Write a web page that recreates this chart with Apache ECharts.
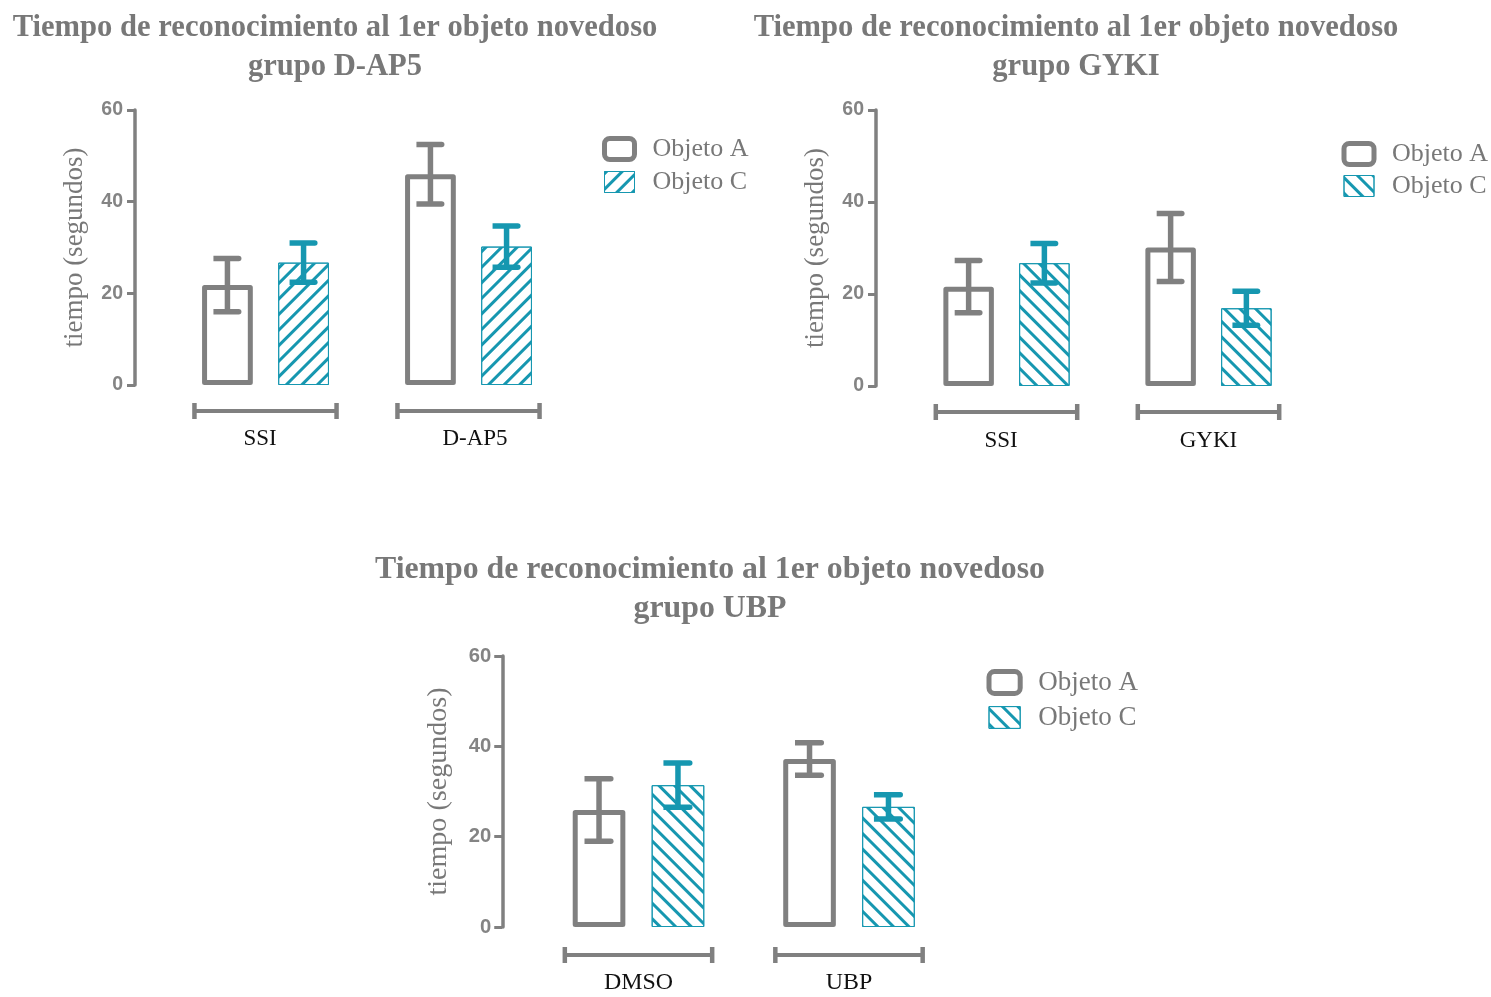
<!DOCTYPE html>
<html>
<head>
<meta charset="utf-8">
<script src="https://cdn.jsdelivr.net/npm/echarts@6/dist/echarts.min.js"></script>
<style>
  html, body { margin: 0; padding: 0; background: #ffffff; }
  #chart { width: 1491px; height: 997px; }
</style>
</head>
<body>
<div id="chart"></div>
<script>
// Recognition time of the first novel object (mean ± SEM, seconds)

// --- D-AP5 group ---
const catsDAP5 = ['SSI', 'D-AP5'];
const meanA_DAP5 = [21.8, 46.0];
const semA_DAP5 = [5.8, 6.5];
const meanC_DAP5 = [26.7, 30.2];
const semC_DAP5 = [4.3, 4.5];

// --- GYKI group ---
const catsGYKI = ['SSI', 'GYKI'];
const meanA_GYKI = [21.6, 30.1];
const semA_GYKI = [5.7, 7.4];
const meanC_GYKI = [26.7, 16.9];
const semC_GYKI = [4.3, 3.7];

// --- UBP group ---
const catsUBP = ['DMSO', 'UBP'];
const meanA_UBP = [25.9, 37.2];
const semA_UBP = [6.9, 3.6];
const meanC_UBP = [31.4, 26.6];
const semC_UBP = [4.9, 2.7];

// shared axis / text
const yMin = 0, yMax = 60, yStep = 20;
const yName = 'tiempo (segundos)';
const seriesNames = ['Objeto A', 'Objeto C'];
const titleLine1 = 'Tiempo de reconocimiento al 1er objeto novedoso';
const groupTitles = ['grupo D-AP5', 'grupo GYKI', 'grupo UBP'];

const GRAY = '#808080';
const CYAN = '#1697b0';
const TEXT_GRAY = '#787878';
const SERIF = '"Liberation Serif", "DejaVu Serif", serif';
const SANS = '"Liberation Sans", Arial, sans-serif';

// each panel: data + its placement on the page
const panels = [
  {
    cats: catsDAP5, a: meanA_DAP5, ea: semA_DAP5, c: meanC_DAP5, ec: semC_DAP5,
    title: titleLine1 + '\n' + groupTitles[0], titleX: 335, titleY: 9,
    titleSize: 30.6, titleLine: 38.5,
    grid: { left: 164, top: 110, width: 406, height: 275 }, yOffset: 29,
    hatch: -1, s: 1, legend: { left: 602, top: 136, gap: 7 },
    bracketDrop: 26, labelMargin: 42, nameGap: 47, tickMargin: 12,
    labelShift: [-5.5, 6.5]
  },
  {
    cats: catsGYKI, a: meanA_GYKI, ea: semA_GYKI, c: meanC_GYKI, ec: semC_GYKI,
    title: titleLine1 + '\n' + groupTitles[1], titleX: 1076, titleY: 9,
    titleSize: 30.6, titleLine: 38.5,
    grid: { left: 905.5, top: 110, width: 404, height: 276 }, yOffset: 29.5,
    hatch: 1, s: 1, legend: { left: 1341.5, top: 141, gap: 6 },
    bracketDrop: 26, labelMargin: 43, nameGap: 47, tickMargin: 12,
    labelShift: [-5.5, 0]
  },
  {
    cats: catsUBP, a: meanA_UBP, ea: semA_UBP, c: meanC_UBP, ec: semC_UBP,
    title: titleLine1 + '\n' + groupTitles[2], titleX: 710, titleY: 551,
    titleSize: 31.8, titleLine: 38.5,
    grid: { left: 533.25, top: 656, width: 421, height: 271 }, yOffset: 31,
    hatch: 1, s: 1.04, legend: { left: 986.5, top: 669, gap: 8 },
    bracketDrop: 28, labelMargin: 44, nameGap: 50, tickMargin: 11,
    labelShift: [0, 0]
  }
];

const BAR_SHIFT = 0.1875;   // bar centre offset from category centre, fraction of band

function hatchDecal(dir, s) {
  return {
    symbol: 'rect', symbolSize: 1,
    dashArrayX: [1, 0], dashArrayY: [2.2 * s, 7.6 * s],
    rotation: dir * Math.PI / 4,
    color: CYAN, backgroundColor: 'rgba(0,0,0,0)'
  };
}

function errorBarRenderer(shift, color, lw) {
  return function (params, api) {
    const k = api.value(0), m = api.value(1), e = api.value(2);
    const band = api.size([1, 0])[0];
    const hi = api.coord([k, m + e]);
    const lo = api.coord([k, m - e]);
    const x = hi[0] + shift * band;
    const hw = band * 0.069;
    const cap = (y) => ({
      type: 'rect',
      shape: { x: x - hw, y: y - lw / 2, width: 2 * hw, height: lw, r: [0, lw / 2, lw / 2, 0] },
      style: { fill: color }
    });
    return {
      type: 'group',
      children: [
        { type: 'line', shape: { x1: x, y1: hi[1], x2: x, y2: lo[1] }, style: { stroke: color, lineWidth: lw } },
        cap(hi[1]), cap(lo[1])
      ]
    };
  };
}

function bracketRenderer(drop) {
  return function (params, api) {
    const k = api.value(0);
    const band = api.size([1, 0])[0];
    const p = api.coord([k, 0]);
    const y = p[1] + drop, hw = band * 0.35;
    const st = { stroke: GRAY, lineWidth: 4.5 };
    return {
      type: 'group',
      children: [
        { type: 'line', shape: { x1: p[0] - hw, y1: y, x2: p[0] + hw, y2: y }, style: { stroke: GRAY, lineWidth: 4 } },
        { type: 'line', shape: { x1: p[0] - hw, y1: y - 8, x2: p[0] - hw, y2: y + 8 }, style: st },
        { type: 'line', shape: { x1: p[0] + hw, y1: y - 8, x2: p[0] + hw, y2: y + 8 }, style: st }
      ]
    };
  };
}

// category label nudged sideways by padding one side of its text box
function categoryLabel(p) {
  const rich = {};
  p.labelShift.forEach((d, k) => {
    rich['c' + k] = {
      fontFamily: SERIF, fontSize: 23 * p.s, color: '#111111',
      padding: d < 0 ? [0, -2 * d, 0, 0] : [0, 0, 0, 2 * d]
    };
  });
  return {
    margin: p.labelMargin,
    formatter: (value, idx) => '{c' + idx + '|' + value + '}',
    rich: rich
  };
}

const option = {
  animation: false,
  backgroundColor: '#ffffff',
  title: panels.map(p => ({
    text: p.title, left: p.titleX, top: p.titleY, textAlign: 'center', padding: 0,
    textStyle: { fontFamily: SERIF, fontWeight: 'bold', fontSize: p.titleSize, lineHeight: p.titleLine, color: TEXT_GRAY }
  })),
  legend: panels.map(p => ({
    orient: 'vertical', left: p.legend.left, top: p.legend.top, padding: 0,
    itemGap: p.legend.gap, itemWidth: 30 * p.s, itemHeight: 21 * p.s, selectedMode: false,
    textStyle: { fontFamily: SERIF, fontSize: 26 * p.s, color: TEXT_GRAY, padding: [0, 0, 0, 13], lineHeight: 20 },
    data: [
      { name: seriesNames[0], icon: 'roundRect', itemStyle: { color: '#ffffff', borderColor: GRAY, borderWidth: 5 } },
      { name: seriesNames[1], icon: 'rect', itemStyle: { color: '#ffffff', borderColor: CYAN, borderWidth: 1, decal: hatchDecal(p.hatch, p.s) } }
    ]
  })),
  grid: panels.map(p => Object.assign({}, p.grid, { containLabel: false })),
  xAxis: panels.map((p, i) => ({
    type: 'category', gridIndex: i, data: p.cats,
    axisLine: { show: false }, axisTick: { show: false }, splitLine: { show: false },
    axisLabel: categoryLabel(p)
  })),
  yAxis: panels.map((p, i) => ({
    type: 'value', gridIndex: i, min: yMin, max: yMax, interval: yStep, offset: p.yOffset,
    axisLine: { show: true, lineStyle: { color: GRAY, width: 3.5 } },
    axisTick: { show: true, length: 8, lineStyle: { color: GRAY, width: 3 } },
    splitLine: { show: false },
    axisLabel: { margin: p.tickMargin, fontFamily: SANS, fontWeight: 'bold', fontSize: 19.5 * p.s, color: '#848484' },
    name: yName, nameLocation: 'middle', nameGap: p.nameGap,
    nameTextStyle: { fontFamily: SERIF, fontSize: 27 * p.s, color: TEXT_GRAY }
  })),
  series: []
};

panels.forEach((p, i) => {
  option.series.push(
    {
      type: 'bar', name: seriesNames[0], xAxisIndex: i, yAxisIndex: i, data: p.a,
      barWidth: '25%', barGap: '50%', z: 2,
      itemStyle: { color: '#ffffff', borderColor: GRAY, borderWidth: 5, borderJoin: 'round' }
    },
    {
      type: 'bar', name: seriesNames[1], xAxisIndex: i, yAxisIndex: i, data: p.c,
      barWidth: '25%', barGap: '50%', z: 2,
      itemStyle: { color: '#ffffff', borderColor: CYAN, borderWidth: 1, decal: hatchDecal(p.hatch, p.s) }
    },
    {
      type: 'custom', name: 'semA' + i, xAxisIndex: i, yAxisIndex: i, z: 3,
      data: p.a.map((v, k) => [k, v, p.ea[k]]),
      renderItem: errorBarRenderer(-BAR_SHIFT, GRAY, 5.5)
    },
    {
      type: 'custom', name: 'semC' + i, xAxisIndex: i, yAxisIndex: i, z: 3,
      data: p.c.map((v, k) => [k, v, p.ec[k]]),
      renderItem: errorBarRenderer(BAR_SHIFT, CYAN, 5.5)
    },
    {
      type: 'custom', name: 'bracket' + i, xAxisIndex: i, yAxisIndex: i, z: 3,
      data: p.cats.map((c, k) => [k, 0]),
      renderItem: bracketRenderer(p.bracketDrop)
    }
  );
});

const chart = echarts.init(document.getElementById('chart'), null, { renderer: 'canvas' });
chart.setOption(option);
</script>
</body>
</html>
